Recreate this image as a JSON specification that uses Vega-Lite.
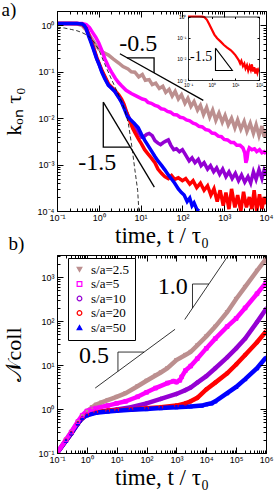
{
"$schema":"https://vega.github.io/schema/vega-lite/v6.json",
"padding":{"left":1,"top":0,"right":0,"bottom":0},
"spacing":0,
"title":{"text":"a)","offset":-9.5},
"resolve":{"scale":{"stroke":"independent","fill":"independent","shape":"independent"},"legend":{"stroke":"independent","fill":"independent","shape":"independent"}},
"datasets":{
"seriesA":[
{"s":"s/a=2.5","t":0.1,"k":1.1},{"s":"s/a=2.5","t":0.15,"k":1.1},{"s":"s/a=2.5","t":0.2,"k":1.1},{"s":"s/a=2.5","t":0.3,"k":1.08},{"s":"s/a=2.5","t":0.4,"k":1.0},{"s":"s/a=2.5","t":0.5,"k":0.8},{"s":"s/a=2.5","t":0.6,"k":0.62},{"s":"s/a=2.5","t":0.7,"k":0.5},{"s":"s/a=2.5","t":0.85,"k":0.38},{"s":"s/a=2.5","t":1,"k":0.31},{"s":"s/a=2.5","t":1.3,"k":0.26},{"s":"s/a=2.5","t":1.7,"k":0.23},{"s":"s/a=2.5","t":2.2,"k":0.19},{"s":"s/a=2.5","t":3,"k":0.155},{"s":"s/a=2.5","t":3.8,"k":0.13},{"s":"s/a=2.5","t":5,"k":0.115},{"s":"s/a=2.5","t":6,"k":0.1},{"s":"s/a=2.5","t":7.3,"k":0.098},{"s":"s/a=2.5","t":9,"k":0.078},{"s":"s/a=2.5","t":11,"k":0.088},{"s":"s/a=2.5","t":13,"k":0.066},{"s":"s/a=2.5","t":16,"k":0.068},{"s":"s/a=2.5","t":19,"k":0.053},{"s":"s/a=2.5","t":23,"k":0.057},{"s":"s/a=2.5","t":28,"k":0.044},{"s":"s/a=2.5","t":34,"k":0.049},{"s":"s/a=2.5","t":40,"k":0.036},{"s":"s/a=2.5","t":48,"k":0.042},{"s":"s/a=2.5","t":57,"k":0.03},{"s":"s/a=2.5","t":67,"k":0.038},{"s":"s/a=2.5","t":80,"k":0.026},{"s":"s/a=2.5","t":95,"k":0.032},{"s":"s/a=2.5","t":115,"k":0.021},{"s":"s/a=2.5","t":135,"k":0.027},{"s":"s/a=2.5","t":160,"k":0.018},{"s":"s/a=2.5","t":190,"k":0.023},{"s":"s/a=2.5","t":230,"k":0.015},{"s":"s/a=2.5","t":270,"k":0.019},{"s":"s/a=2.5","t":320,"k":0.012},{"s":"s/a=2.5","t":380,"k":0.017},{"s":"s/a=2.5","t":450,"k":0.0105},{"s":"s/a=2.5","t":530,"k":0.015},{"s":"s/a=2.5","t":630,"k":0.009},{"s":"s/a=2.5","t":750,"k":0.013},{"s":"s/a=2.5","t":900,"k":0.0082},{"s":"s/a=2.5","t":1050,"k":0.0115},{"s":"s/a=2.5","t":1250,"k":0.0072},{"s":"s/a=2.5","t":1500,"k":0.01},{"s":"s/a=2.5","t":1800,"k":0.0062},{"s":"s/a=2.5","t":2100,"k":0.0092},{"s":"s/a=2.5","t":2500,"k":0.0058},{"s":"s/a=2.5","t":3000,"k":0.0085},{"s":"s/a=2.5","t":3500,"k":0.0052},{"s":"s/a=2.5","t":4200,"k":0.0078},{"s":"s/a=2.5","t":5000,"k":0.0047},{"s":"s/a=2.5","t":5800,"k":0.0072},{"s":"s/a=2.5","t":6800,"k":0.0042},{"s":"s/a=2.5","t":8000,"k":0.0068},{"s":"s/a=2.5","t":9000,"k":0.004},{"s":"s/a=2.5","t":10000,"k":0.0055},
{"s":"s/a=5","t":0.1,"k":1.1},{"s":"s/a=5","t":0.2,"k":1.1},{"s":"s/a=5","t":0.3,"k":1.1},{"s":"s/a=5","t":0.4,"k":1.1},{"s":"s/a=5","t":0.5,"k":1.05},{"s":"s/a=5","t":0.6,"k":0.9},{"s":"s/a=5","t":0.7,"k":0.72},{"s":"s/a=5","t":0.85,"k":0.55},{"s":"s/a=5","t":1,"k":0.42},{"s":"s/a=5","t":1.2,"k":0.28},{"s":"s/a=5","t":1.4,"k":0.19},{"s":"s/a=5","t":1.7,"k":0.13},{"s":"s/a=5","t":2,"k":0.1},{"s":"s/a=5","t":2.5,"k":0.072},{"s":"s/a=5","t":3,"k":0.058},{"s":"s/a=5","t":3.5,"k":0.05},{"s":"s/a=5","t":4.5,"k":0.04},{"s":"s/a=5","t":6,"k":0.034},{"s":"s/a=5","t":8,"k":0.03},{"s":"s/a=5","t":11,"k":0.026},{"s":"s/a=5","t":13,"k":0.025},{"s":"s/a=5","t":15,"k":0.022},{"s":"s/a=5","t":18,"k":0.021},{"s":"s/a=5","t":22,"k":0.019},{"s":"s/a=5","t":26,"k":0.018},{"s":"s/a=5","t":31,"k":0.016},{"s":"s/a=5","t":37,"k":0.0155},{"s":"s/a=5","t":44,"k":0.014},{"s":"s/a=5","t":52,"k":0.0135},{"s":"s/a=5","t":62,"k":0.012},{"s":"s/a=5","t":74,"k":0.0118},{"s":"s/a=5","t":88,"k":0.0105},{"s":"s/a=5","t":105,"k":0.0102},{"s":"s/a=5","t":125,"k":0.0092},{"s":"s/a=5","t":150,"k":0.0088},{"s":"s/a=5","t":180,"k":0.0078},{"s":"s/a=5","t":210,"k":0.0075},{"s":"s/a=5","t":250,"k":0.0067},{"s":"s/a=5","t":300,"k":0.0065},{"s":"s/a=5","t":360,"k":0.0057},{"s":"s/a=5","t":430,"k":0.0055},{"s":"s/a=5","t":510,"k":0.0048},{"s":"s/a=5","t":600,"k":0.0047},{"s":"s/a=5","t":720,"k":0.0041},{"s":"s/a=5","t":860,"k":0.004},{"s":"s/a=5","t":1000,"k":0.0035},{"s":"s/a=5","t":1200,"k":0.0034},{"s":"s/a=5","t":1450,"k":0.003},{"s":"s/a=5","t":1700,"k":0.003},{"s":"s/a=5","t":2000,"k":0.0026},{"s":"s/a=5","t":2400,"k":0.0026},{"s":"s/a=5","t":2800,"k":0.0023},{"s":"s/a=5","t":3100,"k":0.0018},{"s":"s/a=5","t":3300,"k":0.0011},{"s":"s/a=5","t":3500,"k":0.0013},{"s":"s/a=5","t":3700,"k":0.0019},{"s":"s/a=5","t":4000,"k":0.0023},{"s":"s/a=5","t":4600,"k":0.0021},{"s":"s/a=5","t":5300,"k":0.0022},{"s":"s/a=5","t":6000,"k":0.0019},{"s":"s/a=5","t":7000,"k":0.0021},{"s":"s/a=5","t":8000,"k":0.0018},{"s":"s/a=5","t":9000,"k":0.0019},{"s":"s/a=5","t":10000,"k":0.0017},
{"s":"s/a=10","t":0.1,"k":1.1},{"s":"s/a=10","t":0.2,"k":1.1},{"s":"s/a=10","t":0.3,"k":1.1},{"s":"s/a=10","t":0.4,"k":1.07},{"s":"s/a=10","t":0.5,"k":0.86},{"s":"s/a=10","t":0.6,"k":0.58},{"s":"s/a=10","t":0.75,"k":0.32},{"s":"s/a=10","t":0.9,"k":0.19},{"s":"s/a=10","t":1.2,"k":0.1},{"s":"s/a=10","t":1.7,"k":0.052},{"s":"s/a=10","t":2.4,"k":0.038},{"s":"s/a=10","t":3.5,"k":0.023},{"s":"s/a=10","t":4.5,"k":0.014},{"s":"s/a=10","t":5.5,"k":0.0095},{"s":"s/a=10","t":7,"k":0.0068},{"s":"s/a=10","t":9,"k":0.0048},{"s":"s/a=10","t":10.5,"k":0.0039},{"s":"s/a=10","t":12,"k":0.004},{"s":"s/a=10","t":14,"k":0.0045},{"s":"s/a=10","t":16,"k":0.0047},{"s":"s/a=10","t":19,"k":0.0042},{"s":"s/a=10","t":22,"k":0.0033},{"s":"s/a=10","t":26,"k":0.0029},{"s":"s/a=10","t":30,"k":0.0027},{"s":"s/a=10","t":35,"k":0.003},{"s":"s/a=10","t":40,"k":0.0032},{"s":"s/a=10","t":46,"k":0.0034},{"s":"s/a=10","t":53,"k":0.0026},{"s":"s/a=10","t":62,"k":0.0021},{"s":"s/a=10","t":72,"k":0.0022},{"s":"s/a=10","t":85,"k":0.0019},{"s":"s/a=10","t":100,"k":0.0021},{"s":"s/a=10","t":120,"k":0.0016},{"s":"s/a=10","t":145,"k":0.0012},{"s":"s/a=10","t":170,"k":0.0014},{"s":"s/a=10","t":200,"k":0.0011},{"s":"s/a=10","t":240,"k":0.0013},{"s":"s/a=10","t":280,"k":0.00095},{"s":"s/a=10","t":330,"k":0.0011},{"s":"s/a=10","t":400,"k":0.0008},{"s":"s/a=10","t":470,"k":0.00095},{"s":"s/a=10","t":560,"k":0.0007},{"s":"s/a=10","t":660,"k":0.00085},{"s":"s/a=10","t":780,"k":0.00062},{"s":"s/a=10","t":920,"k":0.0008},{"s":"s/a=10","t":1100,"k":0.00055},{"s":"s/a=10","t":1300,"k":0.0007},{"s":"s/a=10","t":1550,"k":0.0005},{"s":"s/a=10","t":1850,"k":0.00065},{"s":"s/a=10","t":2200,"k":0.00045},{"s":"s/a=10","t":2600,"k":0.0006},{"s":"s/a=10","t":3100,"k":0.00042},{"s":"s/a=10","t":3700,"k":0.00055},{"s":"s/a=10","t":4300,"k":0.0004},{"s":"s/a=10","t":5000,"k":0.0007},{"s":"s/a=10","t":5800,"k":0.00048},{"s":"s/a=10","t":6800,"k":0.00078},{"s":"s/a=10","t":8000,"k":0.0005},{"s":"s/a=10","t":9000,"k":0.00075},{"s":"s/a=10","t":10000,"k":0.0006},
{"s":"s/a=20","t":0.1,"k":1.1},{"s":"s/a=20","t":0.2,"k":1.1},{"s":"s/a=20","t":0.3,"k":1.1},{"s":"s/a=20","t":0.4,"k":1.07},{"s":"s/a=20","t":0.5,"k":0.87},{"s":"s/a=20","t":0.6,"k":0.57},{"s":"s/a=20","t":0.75,"k":0.33},{"s":"s/a=20","t":0.9,"k":0.2},{"s":"s/a=20","t":1.2,"k":0.105},{"s":"s/a=20","t":1.7,"k":0.055},{"s":"s/a=20","t":2.4,"k":0.04},{"s":"s/a=20","t":3,"k":0.032},{"s":"s/a=20","t":3.5,"k":0.026},{"s":"s/a=20","t":4,"k":0.02},{"s":"s/a=20","t":4.7,"k":0.013},{"s":"s/a=20","t":5.5,"k":0.0088},{"s":"s/a=20","t":6.5,"k":0.006},{"s":"s/a=20","t":7.5,"k":0.0047},{"s":"s/a=20","t":9,"k":0.0035},{"s":"s/a=20","t":10.5,"k":0.0028},{"s":"s/a=20","t":12.5,"k":0.0021},{"s":"s/a=20","t":15,"k":0.0017},{"s":"s/a=20","t":18,"k":0.0014},{"s":"s/a=20","t":22,"k":0.0011},{"s":"s/a=20","t":26,"k":0.0008},{"s":"s/a=20","t":32,"k":0.00064},{"s":"s/a=20","t":38,"k":0.00055},{"s":"s/a=20","t":46,"k":0.0005},{"s":"s/a=20","t":55,"k":0.00058},{"s":"s/a=20","t":65,"k":0.00048},{"s":"s/a=20","t":80,"k":0.00052},{"s":"s/a=20","t":100,"k":0.00045},{"s":"s/a=20","t":120,"k":0.0005},{"s":"s/a=20","t":150,"k":0.00038},{"s":"s/a=20","t":180,"k":0.00045},{"s":"s/a=20","t":220,"k":0.00032},{"s":"s/a=20","t":270,"k":0.0004},{"s":"s/a=20","t":330,"k":0.00028},{"s":"s/a=20","t":400,"k":0.00035},{"s":"s/a=20","t":480,"k":0.00022},{"s":"s/a=20","t":570,"k":0.0003},{"s":"s/a=20","t":680,"k":0.00016},{"s":"s/a=20","t":800,"k":0.00028},{"s":"s/a=20","t":950,"k":0.00013},{"s":"s/a=20","t":1100,"k":0.00025},{"s":"s/a=20","t":1300,"k":0.00011},{"s":"s/a=20","t":1500,"k":0.0003},{"s":"s/a=20","t":1800,"k":0.00012},{"s":"s/a=20","t":2100,"k":0.00022},{"s":"s/a=20","t":2500,"k":0.0001},{"s":"s/a=20","t":2900,"k":0.00026},{"s":"s/a=20","t":3400,"k":0.00012},{"s":"s/a=20","t":4000,"k":0.0002},{"s":"s/a=20","t":4600,"k":0.00011},{"s":"s/a=20","t":5200,"k":0.00028},{"s":"s/a=20","t":6000,"k":0.0001},{"s":"s/a=20","t":7000,"k":0.00023},{"s":"s/a=20","t":8000,"k":0.00011},{"s":"s/a=20","t":9000,"k":0.0002},{"s":"s/a=20","t":10000,"k":0.00014},
{"s":"s/a=50","t":0.1,"k":1.1},{"s":"s/a=50","t":0.2,"k":1.1},{"s":"s/a=50","t":0.3,"k":1.1},{"s":"s/a=50","t":0.4,"k":1.08},{"s":"s/a=50","t":0.45,"k":1.0},{"s":"s/a=50","t":0.5,"k":0.85},{"s":"s/a=50","t":0.56,"k":0.62},{"s":"s/a=50","t":0.65,"k":0.43},{"s":"s/a=50","t":0.74,"k":0.31},{"s":"s/a=50","t":0.89,"k":0.19},{"s":"s/a=50","t":1,"k":0.15},{"s":"s/a=50","t":1.17,"k":0.1},{"s":"s/a=50","t":1.4,"k":0.07},{"s":"s/a=50","t":1.7,"k":0.051},{"s":"s/a=50","t":2,"k":0.045},{"s":"s/a=50","t":2.4,"k":0.038},{"s":"s/a=50","t":3,"k":0.028},{"s":"s/a=50","t":3.5,"k":0.022},{"s":"s/a=50","t":4.2,"k":0.015},{"s":"s/a=50","t":4.8,"k":0.011},{"s":"s/a=50","t":5.6,"k":0.0095},{"s":"s/a=50","t":7,"k":0.0078},{"s":"s/a=50","t":8.8,"k":0.0062},{"s":"s/a=50","t":10.5,"k":0.0045},{"s":"s/a=50","t":12.7,"k":0.0033},{"s":"s/a=50","t":15,"k":0.0026},{"s":"s/a=50","t":18,"k":0.002},{"s":"s/a=50","t":22,"k":0.0015},{"s":"s/a=50","t":26,"k":0.0012},{"s":"s/a=50","t":32,"k":0.00095},{"s":"s/a=50","t":38,"k":0.00077},{"s":"s/a=50","t":46,"k":0.0006},{"s":"s/a=50","t":55,"k":0.00049},{"s":"s/a=50","t":65,"k":0.0004},{"s":"s/a=50","t":80,"k":0.0003},{"s":"s/a=50","t":95,"k":0.00025},{"s":"s/a=50","t":110,"k":0.00022},{"s":"s/a=50","t":130,"k":0.00016},{"s":"s/a=50","t":150,"k":0.00019},{"s":"s/a=50","t":170,"k":0.00013},{"s":"s/a=50","t":190,"k":0.00015},{"s":"s/a=50","t":220,"k":0.00011},{"s":"s/a=50","t":250,"k":0.0001}
],
"dashA":[{"t":0.1,"k":0.92},{"t":0.15,"k":0.88},{"t":0.22,"k":0.82},{"t":0.3,"k":0.77},{"t":0.4,"k":0.7},{"t":0.56,"k":0.6},{"t":0.74,"k":0.46},{"t":1,"k":0.3},{"t":1.3,"k":0.17},{"t":1.6,"k":0.11},{"t":2,"k":0.07},{"t":2.5,"k":0.045},{"t":3,"k":0.031},{"t":3.5,"k":0.023},{"t":4.2,"k":0.015},{"t":5.1,"k":0.0076},{"t":6.2,"k":0.0024},{"t":7.3,"k":0.00077},{"t":8.5,"k":0.00028},{"t":9.1,"k":0.0001}],
"refA":[{"g":"l1","o":1,"t":3.2,"k":0.246},{"g":"l1","o":2,"t":316,"k":0.0242},{"g":"t1","o":1,"t":4.7,"k":0.201},{"g":"t1","o":2,"t":21,"k":0.201},{"g":"t1","o":3,"t":21,"k":0.095},{"g":"l2","o":1,"t":1.28,"k":0.0222},{"g":"l2","o":2,"t":21.3,"k":0.000327},{"g":"t2","o":1,"t":1.28,"k":0.0222},{"g":"t2","o":2,"t":1.28,"k":0.00238},{"g":"t2","o":3,"t":5.57,"k":0.00238}],
"txtA":[{"t":8.8,"k":0.39,"label":"-0.5"},{"t":0.92,"k":0.0011,"label":"-1.5"}],
"insetA":[{"t":0.1,"k":1},{"t":0.15,"k":1},{"t":0.2,"k":1},{"t":0.3,"k":1},{"t":0.4,"k":0.99},{"t":0.5,"k":0.92},{"t":0.63,"k":0.7},{"t":0.8,"k":0.42},{"t":1.04,"k":0.23},{"t":1.3,"k":0.14},{"t":1.7,"k":0.094},{"t":2.4,"k":0.065},{"t":3.3,"k":0.045},{"t":4.5,"k":0.034},{"t":6.3,"k":0.026},{"t":8,"k":0.02},{"t":10,"k":0.015},{"t":12,"k":0.011},{"t":14,"k":0.0085},{"t":16,"k":0.006},{"t":18,"k":0.008},{"t":21,"k":0.0045},{"t":24,"k":0.006},{"t":27,"k":0.0035},{"t":31,"k":0.005},{"t":35,"k":0.0028},{"t":40,"k":0.0045},{"t":45,"k":0.003},{"t":50,"k":0.0055},{"t":56,"k":0.0025},{"t":63,"k":0.004},{"t":70,"k":0.002},{"t":78,"k":0.0035},{"t":86,"k":0.0022},{"t":93,"k":0.003},{"t":100,"k":0.0025}],
"insetTri":[{"o":1,"t":1.45,"k":0.032},{"o":2,"t":1.45,"k":0.0028},{"o":3,"t":7.5,"k":0.0028},{"o":4,"t":1.45,"k":0.032}],
"insetTxt":[{"t":0.36,"k":0.0127,"label":"-1.5"}],
"seriesB":[
{"s":"s/a=2.5","t":0.1,"n":0.1},{"s":"s/a=2.5","t":0.2,"n":0.2},{"s":"s/a=2.5","t":0.3,"n":0.3},{"s":"s/a=2.5","t":0.5,"n":0.5},{"s":"s/a=2.5","t":0.7,"n":0.68},{"s":"s/a=2.5","t":1,"n":0.88},{"s":"s/a=2.5","t":1.5,"n":1.1},{"s":"s/a=2.5","t":2,"n":1.25},{"s":"s/a=2.5","t":3,"n":1.4},{"s":"s/a=2.5","t":5,"n":1.6},{"s":"s/a=2.5","t":10,"n":1.9},{"s":"s/a=2.5","t":20,"n":2.3},{"s":"s/a=2.5","t":50,"n":3.3},{"s":"s/a=2.5","t":100,"n":4.4},{"s":"s/a=2.5","t":200,"n":5.8},{"s":"s/a=2.5","t":300,"n":6.8},{"s":"s/a=2.5","t":500,"n":8.5},{"s":"s/a=2.5","t":1000,"n":13},{"s":"s/a=2.5","t":2000,"n":17},{"s":"s/a=2.5","t":3000,"n":20},{"s":"s/a=2.5","t":5000,"n":28},{"s":"s/a=2.5","t":10000,"n":45},{"s":"s/a=2.5","t":20000,"n":75},{"s":"s/a=2.5","t":50000,"n":160},{"s":"s/a=2.5","t":100000,"n":320},{"s":"s/a=2.5","t":200000,"n":600},{"s":"s/a=2.5","t":500000,"n":1400},{"s":"s/a=2.5","t":1000000,"n":2600},
{"s":"s/a=10","t":0.1,"n":0.1},{"s":"s/a=10","t":0.2,"n":0.19},{"s":"s/a=10","t":0.3,"n":0.28},{"s":"s/a=10","t":0.5,"n":0.47},{"s":"s/a=10","t":0.7,"n":0.62},{"s":"s/a=10","t":1,"n":0.74},{"s":"s/a=10","t":2,"n":0.85},{"s":"s/a=10","t":5,"n":0.92},{"s":"s/a=10","t":10,"n":0.98},{"s":"s/a=10","t":30,"n":1.1},{"s":"s/a=10","t":100,"n":1.35},{"s":"s/a=10","t":300,"n":1.7},{"s":"s/a=10","t":1000,"n":2.2},{"s":"s/a=10","t":2000,"n":2.7},{"s":"s/a=10","t":3000,"n":3.1},{"s":"s/a=10","t":5000,"n":4},{"s":"s/a=10","t":10000,"n":5.6},{"s":"s/a=10","t":20000,"n":8.5},{"s":"s/a=10","t":50000,"n":15},{"s":"s/a=10","t":100000,"n":24},{"s":"s/a=10","t":200000,"n":40},{"s":"s/a=10","t":500000,"n":95},{"s":"s/a=10","t":1000000,"n":190},
{"s":"s/a=20","t":0.1,"n":0.1},{"s":"s/a=20","t":0.2,"n":0.19},{"s":"s/a=20","t":0.3,"n":0.28},{"s":"s/a=20","t":0.5,"n":0.47},{"s":"s/a=20","t":0.7,"n":0.62},{"s":"s/a=20","t":1,"n":0.74},{"s":"s/a=20","t":2,"n":0.85},{"s":"s/a=20","t":5,"n":0.92},{"s":"s/a=20","t":10,"n":0.95},{"s":"s/a=20","t":30,"n":0.98},{"s":"s/a=20","t":100,"n":1.05},{"s":"s/a=20","t":300,"n":1.1},{"s":"s/a=20","t":1000,"n":1.2},{"s":"s/a=20","t":2000,"n":1.35},{"s":"s/a=20","t":3000,"n":1.5},{"s":"s/a=20","t":5000,"n":1.8},{"s":"s/a=20","t":10000,"n":2.8},{"s":"s/a=20","t":20000,"n":4},{"s":"s/a=20","t":50000,"n":6.5},{"s":"s/a=20","t":100000,"n":10.3},{"s":"s/a=20","t":200000,"n":17},{"s":"s/a=20","t":500000,"n":33},{"s":"s/a=20","t":1000000,"n":58},
{"s":"s/a=50","t":0.1,"n":0.1},{"s":"s/a=50","t":0.2,"n":0.19},{"s":"s/a=50","t":0.3,"n":0.28},{"s":"s/a=50","t":0.5,"n":0.47},{"s":"s/a=50","t":0.7,"n":0.62},{"s":"s/a=50","t":1,"n":0.72},{"s":"s/a=50","t":2,"n":0.82},{"s":"s/a=50","t":5,"n":0.88},{"s":"s/a=50","t":10,"n":0.92},{"s":"s/a=50","t":30,"n":0.96},{"s":"s/a=50","t":100,"n":1.0},{"s":"s/a=50","t":300,"n":1.05},{"s":"s/a=50","t":1000,"n":1.1},{"s":"s/a=50","t":3000,"n":1.15},{"s":"s/a=50","t":7000,"n":1.2},{"s":"s/a=50","t":10000,"n":1.28},{"s":"s/a=50","t":15000,"n":1.35},{"s":"s/a=50","t":20000,"n":1.5},{"s":"s/a=50","t":50000,"n":2.3},{"s":"s/a=50","t":100000,"n":3.2},{"s":"s/a=50","t":200000,"n":4.8},{"s":"s/a=50","t":500000,"n":8.5},{"s":"s/a=50","t":1000000,"n":15},
{"s":"s/a=5","t":0.1,"n":0.1},{"s":"s/a=5","t":0.2,"n":0.2},{"s":"s/a=5","t":0.3,"n":0.3},{"s":"s/a=5","t":0.5,"n":0.52},{"s":"s/a=5","t":0.7,"n":0.72},{"s":"s/a=5","t":1,"n":0.9},{"s":"s/a=5","t":1.5,"n":1.0},{"s":"s/a=5","t":2,"n":1.05},{"s":"s/a=5","t":5,"n":1.2},{"s":"s/a=5","t":10,"n":1.35},{"s":"s/a=5","t":20,"n":1.5},{"s":"s/a=5","t":50,"n":1.9},{"s":"s/a=5","t":100,"n":2.4},{"s":"s/a=5","t":200,"n":3.0},{"s":"s/a=5","t":500,"n":3.9},{"s":"s/a=5","t":800,"n":4.3},{"s":"s/a=5","t":1000,"n":4.1},{"s":"s/a=5","t":1300,"n":4.5},{"s":"s/a=5","t":1500,"n":5.4},{"s":"s/a=5","t":2000,"n":7.5},{"s":"s/a=5","t":3000,"n":9.5},{"s":"s/a=5","t":5000,"n":14},{"s":"s/a=5","t":10000,"n":24},{"s":"s/a=5","t":20000,"n":40},{"s":"s/a=5","t":50000,"n":75},{"s":"s/a=5","t":100000,"n":115},{"s":"s/a=5","t":200000,"n":200},{"s":"s/a=5","t":500000,"n":420},{"s":"s/a=5","t":1000000,"n":750}
],
"refB":[{"g":"l1","o":1,"t":1.9,"n":3.0},{"g":"l1","o":2,"t":900,"n":65.3},{"g":"t1","o":1,"t":11,"n":7.22},{"g":"t1","o":2,"t":11,"n":19.8},{"g":"t1","o":3,"t":82.7,"n":19.8},{"g":"l2","o":1,"t":1900,"n":109},{"g":"l2","o":2,"t":53000,"n":3040},{"g":"t2","o":1,"t":3450,"n":198},{"g":"t2","o":2,"t":3450,"n":700},{"g":"t2","o":3,"t":12170,"n":700}],
"txtB":[{"t":760,"n":590,"label":"1.0"},{"t":1.73,"n":15.8,"label":"0.5"}]
},
"vconcat":[
{
"width":209,"height":200,
"layer":[
{
"layer":[
{"data":{"name":"seriesA"},"mark":{"type":"line","strokeWidth":3.5,"clip":true},"encoding":{"stroke":{"field":"s","type":"nominal","scale":{"domain":["s/a=2.5","s/a=5","s/a=10","s/a=20","s/a=50"],"range":["#bc8f8f","#ff00ff","#9400d3","#ff0000","#0000ff"]},"legend":null}}},
{"data":{"name":"dashA"},"mark":{"type":"line","stroke":"black","strokeWidth":0.8,"strokeDash":[4,2.5],"clip":true}},
{"data":{"name":"refA"},"mark":{"type":"line","stroke":"black","strokeWidth":1.3,"clip":true},"encoding":{"detail":{"field":"g","type":"nominal"},"order":{"field":"o","type":"quantitative"}}},
{"data":{"name":"txtA"},"mark":{"type":"text","font":"Liberation Serif","fontSize":24,"align":"center","baseline":"middle"},"encoding":{"text":{"field":"label","type":"nominal"}}}
],
"encoding":{
"x":{"field":"t","type":"quantitative","scale":{"type":"log","domain":[0.1,10000]},"axis":{"title":"time, t / τ₀","values":[0.1,1,10,100,1000,10000],"labelExpr":"'10' + ['⁻⁴','⁻³','⁻²','⁻¹','⁰','¹','²','³','⁴','⁵','⁶'][round(log(datum.value)/LN10)+4]","ticks":false,"labelPadding":2,"titlePadding":2,"titleFontSize":23,"labelFlush":false,"labelOverlap":false,"zindex":1}},
"y":{"field":"k","type":"quantitative","scale":{"type":"log","domain":[0.0001,2.05]},"axis":{"title":"kₒₙ τ₀","values":[0.0001,0.001,0.01,0.1,1],"labelExpr":"'10' + ['⁻⁴','⁻³','⁻²','⁻¹','⁰','¹','²','³','⁴','⁵','⁶'][round(log(datum.value)/LN10)+4]","ticks":false,"labelPadding":3,"titlePadding":12,"titleFontSize":22,"labelOverlap":false,"zindex":1}}
}
},
{"data":{"values":[{}]},"mark":{"type":"point","opacity":0},"encoding":{
"x":{"datum":1,"type":"quantitative","scale":{"type":"log","domain":[0.1,10000]},"axis":{"orient":"bottom","values":[0.1,1,10,100,1000,10000],"labels":false,"domain":false,"title":null,"tickSize":-6,"zindex":1}},
"y":{"datum":1,"type":"quantitative","scale":{"type":"log","domain":[0.0001,2.05]},"axis":{"orient":"left","values":[0.0001,0.001,0.01,0.1,1],"labels":false,"domain":false,"title":null,"tickSize":-6,"zindex":1}}}},
{"data":{"values":[{}]},"mark":{"type":"point","opacity":0},"encoding":{
"x":{"datum":1,"type":"quantitative","scale":{"type":"log","domain":[0.1,10000]},"axis":{"orient":"bottom","values":[0.2,0.3,0.4,0.5,0.6,0.7,0.8,0.9,2,3,4,5,6,7,8,9,20,30,40,50,60,70,80,90,200,300,400,500,600,700,800,900,2000,3000,4000,5000,6000,7000,8000,9000],"labels":false,"domain":false,"tickSize":-3,"zindex":1,"title":"b)","titleX":-49,"titleY":38,"titleAngle":0,"titleAlign":"left","titleBaseline":"alphabetic","titleFont":"Liberation Serif","titleFontSize":19,"titleFontWeight":"normal","titlePadding":0}},
"y":{"datum":1,"type":"quantitative","scale":{"type":"log","domain":[0.0001,2.05]},"axis":{"orient":"left","values":[0.0002,0.0003,0.0004,0.0005,0.0006,0.0007,0.0008,0.0009,0.002,0.003,0.004,0.005,0.006,0.007,0.008,0.009,0.02,0.03,0.04,0.05,0.06,0.07,0.08,0.09,0.2,0.3,0.4,0.5,0.6,0.7,0.8,0.9,2],"labels":false,"domain":false,"title":null,"tickSize":-3,"zindex":1}}}},
{"data":{"values":[{}]},"mark":{"type":"point","opacity":0},"encoding":{
"x":{"datum":1,"type":"quantitative","scale":{"type":"log","domain":[0.1,10000]},"axis":{"orient":"top","values":[0.1,1,10,100,1000,10000],"labels":false,"domain":false,"title":null,"tickSize":-6,"zindex":1}},
"y":{"datum":1,"type":"quantitative","scale":{"type":"log","domain":[0.0001,2.05]},"axis":{"orient":"right","values":[0.0001,0.001,0.01,0.1,1],"labels":false,"domain":false,"title":null,"tickSize":-6,"zindex":1}}}},
{"data":{"values":[{}]},"mark":{"type":"point","opacity":0},"encoding":{
"x":{"datum":1,"type":"quantitative","scale":{"type":"log","domain":[0.1,10000]},"axis":{"orient":"top","values":[0.2,0.3,0.4,0.5,0.6,0.7,0.8,0.9,2,3,4,5,6,7,8,9,20,30,40,50,60,70,80,90,200,300,400,500,600,700,800,900,2000,3000,4000,5000,6000,7000,8000,9000],"labels":false,"domain":false,"title":null,"tickSize":-3,"zindex":1}},
"y":{"datum":1,"type":"quantitative","scale":{"type":"log","domain":[0.0001,2.05]},"axis":{"orient":"right","values":[0.0002,0.0003,0.0004,0.0005,0.0006,0.0007,0.0008,0.0009,0.002,0.003,0.004,0.005,0.006,0.007,0.008,0.009,0.02,0.03,0.04,0.05,0.06,0.07,0.08,0.09,0.2,0.3,0.4,0.5,0.6,0.7,0.8,0.9,2],"labels":false,"domain":false,"title":null,"tickSize":-3,"zindex":1}}}},
{
"layer":[
{"data":{"name":"insetA"},"mark":{"type":"line","stroke":"#ff0000","strokeWidth":2.2,"clip":true}},
{"data":{"name":"insetTri"},"mark":{"type":"line","stroke":"black","strokeWidth":1.1},"encoding":{"order":{"field":"o","type":"quantitative"}}},
{"data":{"name":"insetTxt"},"mark":{"type":"text","font":"Liberation Serif","fontSize":14,"align":"center","baseline":"middle"},"encoding":{"text":{"field":"label","type":"nominal"}}}
],
"encoding":{
"x":{"field":"t","type":"quantitative","scale":{"type":"log","domain":[0.1,100],"range":[131,202]},"axis":{"orient":"bottom","offset":-131,"values":[0.1,1,10,100],"labelExpr":"'10' + ['⁻⁴','⁻³','⁻²','⁻¹','⁰','¹','²','³','⁴','⁵','⁶'][round(log(datum.value)/LN10)+4]","labelFontSize":5,"labelPadding":4,"tickSize":-2,"domain":true,"domainWidth":0.8,"title":null,"labelFlush":false,"labelOverlap":false,"zindex":1}},
"y":{"field":"k","type":"quantitative","scale":{"type":"log","domain":[0.001,1],"range":[69,5.5]},"axis":{"orient":"left","offset":-131,"values":[0.001,0.01,0.1,1],"labelExpr":"'10' + ['⁻⁴','⁻³','⁻²','⁻¹','⁰','¹','²','³','⁴','⁵','⁶'][round(log(datum.value)/LN10)+4]","labelFontSize":5,"labelPadding":4,"tickSize":-2,"domain":true,"domainWidth":0.8,"title":null,"labelOverlap":false,"zindex":1}}
}
},
{"data":{"values":[{}]},"mark":{"type":"point","opacity":0},"encoding":{
"x":{"datum":1,"type":"quantitative","scale":{"type":"log","domain":[0.1,100],"range":[131,202]},"axis":{"orient":"top","offset":-5.5,"values":[0.1,1,10,100],"labels":false,"domain":true,"domainWidth":0.8,"title":null,"tickSize":-2,"zindex":1}},
"y":{"datum":0.1,"type":"quantitative","scale":{"type":"log","domain":[0.001,1],"range":[69,5.5]},"axis":{"orient":"right","offset":-7,"values":[0.001,0.01,0.1,1],"labels":false,"domain":true,"domainWidth":0.8,"title":null,"tickSize":-2,"zindex":1}}}}
],
"resolve":{"scale":{"x":"independent","y":"independent"}}
},
{
"width":209,"height":198,
"layer":[
{
"layer":[
{"data":{"name":"seriesB"},"mark":{"type":"line","strokeWidth":4.5,"clip":true},"encoding":{"stroke":{"field":"s","type":"nominal","scale":{"domain":["s/a=2.5","s/a=5","s/a=10","s/a=20","s/a=50"],"range":["#bc8f8f","#ff00ff","#9400d3","#ff0000","#0000ff"]},"legend":{"title":null,"orient":"none","legendX":11,"legendY":3,"strokeColor":"black","fillColor":"white","padding":5,"labelFont":"Liberation Serif","labelFontSize":13,"symbolSize":22,"rowPadding":0.5,"labelOffset":5,"symbolStrokeWidth":1.2,"zindex":2}}}},
{"data":{"name":"seriesB"},"mark":{"type":"point","size":14,"strokeWidth":1,"opacity":1,"clip":true},"encoding":{
"stroke":{"field":"s","type":"nominal","scale":{"domain":["s/a=2.5","s/a=5","s/a=10","s/a=20","s/a=50"],"range":["#bc8f8f","#ff00ff","#9400d3","#ff0000","#0000ff"]},"legend":{"title":null,"orient":"none","legendX":11,"legendY":3,"strokeColor":"black","fillColor":"white","padding":5,"labelFont":"Liberation Serif","labelFontSize":13,"symbolSize":22,"rowPadding":0.5,"labelOffset":5,"symbolStrokeWidth":1.2,"zindex":2}},
"fill":{"field":"s","type":"nominal","scale":{"domain":["s/a=2.5","s/a=5","s/a=10","s/a=20","s/a=50"],"range":["#bc8f8f","transparent","transparent","transparent","#0000ff"]},"legend":{"title":null,"orient":"none","legendX":11,"legendY":3,"strokeColor":"black","fillColor":"white","padding":5,"labelFont":"Liberation Serif","labelFontSize":13,"symbolSize":22,"rowPadding":0.5,"labelOffset":5,"symbolStrokeWidth":1.2,"zindex":2}},
"shape":{"field":"s","type":"nominal","scale":{"domain":["s/a=2.5","s/a=5","s/a=10","s/a=20","s/a=50"],"range":["triangle-down","square","circle","circle","triangle-up"]},"legend":{"title":null,"orient":"none","legendX":11,"legendY":3,"strokeColor":"black","fillColor":"white","padding":5,"labelFont":"Liberation Serif","labelFontSize":13,"symbolSize":22,"rowPadding":0.5,"labelOffset":5,"symbolStrokeWidth":1.2,"zindex":2}}}},
{"data":{"name":"refB"},"mark":{"type":"line","stroke":"black","strokeWidth":0.8,"clip":true},"encoding":{"detail":{"field":"g","type":"nominal"},"order":{"field":"o","type":"quantitative"}}},
{"data":{"name":"txtB"},"mark":{"type":"text","font":"Liberation Serif","fontSize":24,"align":"center","baseline":"middle"},"encoding":{"text":{"field":"label","type":"nominal"}}}
],
"encoding":{
"x":{"field":"t","type":"quantitative","scale":{"type":"log","domain":[0.1,1000000]},"axis":{"title":"time, t / τ₀","values":[0.1,1,10,100,1000,10000,100000,1000000],"labelExpr":"'10' + ['⁻⁴','⁻³','⁻²','⁻¹','⁰','¹','²','³','⁴','⁵','⁶'][round(log(datum.value)/LN10)+4]","ticks":false,"labelPadding":2,"titlePadding":2,"titleFontSize":23,"labelFlush":false,"labelOverlap":false,"zindex":1}},
"y":{"field":"n","type":"quantitative","scale":{"type":"log","domain":[0.1,3200]},"axis":{"title":"𝒩coll","values":[0.1,1,10,100,1000],"labelExpr":"'10' + ['⁻⁴','⁻³','⁻²','⁻¹','⁰','¹','²','³','⁴','⁵','⁶'][round(log(datum.value)/LN10)+4]","ticks":false,"labelPadding":3,"titlePadding":12,"titleFontSize":22,"labelOverlap":false,"zindex":1}}
}
},
{"data":{"values":[{}]},"mark":{"type":"point","opacity":0},"encoding":{
"x":{"datum":1,"type":"quantitative","scale":{"type":"log","domain":[0.1,1000000]},"axis":{"orient":"bottom","values":[0.1,1,10,100,1000,10000,100000,1000000],"labels":false,"domain":false,"title":null,"tickSize":-6,"zindex":1}},
"y":{"datum":1,"type":"quantitative","scale":{"type":"log","domain":[0.1,3200]},"axis":{"orient":"left","values":[0.1,1,10,100,1000],"labels":false,"domain":false,"title":null,"tickSize":-6,"zindex":1}}}},
{"data":{"values":[{}]},"mark":{"type":"point","opacity":0},"encoding":{
"x":{"datum":1,"type":"quantitative","scale":{"type":"log","domain":[0.1,1000000]},"axis":{"orient":"bottom","values":[0.2,0.3,0.4,0.5,0.6,0.7,0.8,0.9,2,3,4,5,6,7,8,9,20,30,40,50,60,70,80,90,200,300,400,500,600,700,800,900,2000,3000,4000,5000,6000,7000,8000,9000,20000,30000,40000,50000,60000,70000,80000,90000,200000,300000,400000,500000,600000,700000,800000,900000],"labels":false,"domain":false,"title":null,"tickSize":-3,"zindex":1}},
"y":{"datum":1,"type":"quantitative","scale":{"type":"log","domain":[0.1,3200]},"axis":{"orient":"left","values":[0.2,0.3,0.4,0.5,0.6,0.7,0.8,0.9,2,3,4,5,6,7,8,9,20,30,40,50,60,70,80,90,200,300,400,500,600,700,800,900,2000,3000],"labels":false,"domain":false,"title":null,"tickSize":-3,"zindex":1}}}},
{"data":{"values":[{}]},"mark":{"type":"point","opacity":0},"encoding":{
"x":{"datum":1,"type":"quantitative","scale":{"type":"log","domain":[0.1,1000000]},"axis":{"orient":"top","values":[0.1,1,10,100,1000,10000,100000,1000000],"labels":false,"domain":false,"title":null,"tickSize":-6,"zindex":1}},
"y":{"datum":1,"type":"quantitative","scale":{"type":"log","domain":[0.1,3200]},"axis":{"orient":"right","values":[0.1,1,10,100,1000],"labels":false,"domain":false,"title":null,"tickSize":-6,"zindex":1}}}},
{"data":{"values":[{}]},"mark":{"type":"point","opacity":0},"encoding":{
"x":{"datum":1,"type":"quantitative","scale":{"type":"log","domain":[0.1,1000000]},"axis":{"orient":"top","values":[0.2,0.3,0.4,0.5,0.6,0.7,0.8,0.9,2,3,4,5,6,7,8,9,20,30,40,50,60,70,80,90,200,300,400,500,600,700,800,900,2000,3000,4000,5000,6000,7000,8000,9000,20000,30000,40000,50000,60000,70000,80000,90000,200000,300000,400000,500000,600000,700000,800000,900000],"labels":false,"domain":false,"title":null,"tickSize":-3,"zindex":1}},
"y":{"datum":1,"type":"quantitative","scale":{"type":"log","domain":[0.1,3200]},"axis":{"orient":"right","values":[0.2,0.3,0.4,0.5,0.6,0.7,0.8,0.9,2,3,4,5,6,7,8,9,20,30,40,50,60,70,80,90,200,300,400,500,600,700,800,900,2000,3000],"labels":false,"domain":false,"title":null,"tickSize":-3,"zindex":1}}}}
],
"resolve":{"scale":{"x":"independent","y":"independent"}}
}
],
"config":{
"view":{"stroke":"black","strokeWidth":1},
"font":"Liberation Serif",
"axis":{"labelFont":"Liberation Sans","labelFontSize":9,"labelColor":"black","titleFont":"Liberation Serif","titleFontWeight":"normal","titleColor":"black","domainColor":"black","tickColor":"black","grid":false},
"title":{"font":"Liberation Serif","fontSize":19,"fontWeight":"normal","anchor":"start","frame":"bounds","baseline":"alphabetic","color":"black"}
}
}
